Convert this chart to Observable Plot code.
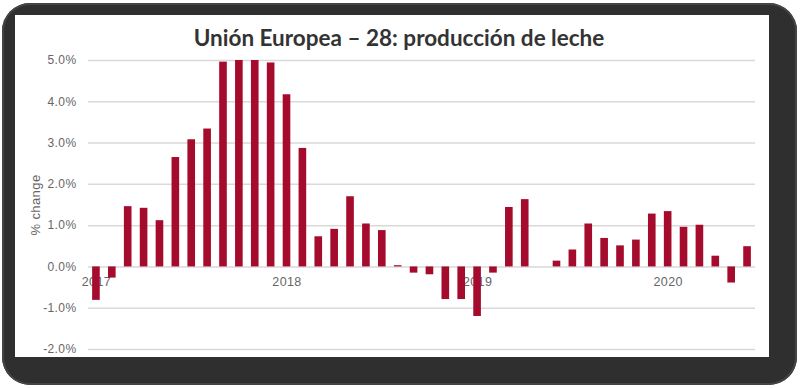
<!DOCTYPE html>
<html>
<head>
<meta charset="utf-8">
<script src="https://cdn.jsdelivr.net/npm/d3@7"></script>
<script src="https://cdn.jsdelivr.net/npm/@observablehq/plot@0.6"></script>
<style>
  html, body { margin: 0; padding: 0; background: #ffffff; }
  #wrap { position: relative; width: 800px; height: 388px; overflow: hidden; background: #fff; }
  #frame { position: absolute; left: 2px; top: 3px; width: 795px; height: 382px; background: #2f2f2f; border-radius: 28px; box-shadow: inset 0 0 0 2px #444; }
  #panel { position: absolute; left: 15px; top: 15px; width: 754px; height: 342px; background: #fff; }
  #title { position: absolute; left: 0; top: 24px; width: 798px; text-align: center; font-family: Lato, "Open Sans", sans-serif; font-weight: bold; font-size: 22.5px; color: #333; }
  #chart { position: absolute; left: 0; top: 0; }
  #chart text { letter-spacing: 0.4px; }
</style>
</head>
<body>
<div id="wrap">
  <div id="frame"></div>
  <div id="panel"></div>
  <div id="title">Unión Europea – 28: producción de leche</div>
  <div id="chart"></div>
</div>
<script>
const months = [
  "2017-01","2017-02","2017-03","2017-04","2017-05","2017-06","2017-07","2017-08","2017-09","2017-10","2017-11","2017-12",
  "2018-01","2018-02","2018-03","2018-04","2018-05","2018-06","2018-07","2018-08","2018-09","2018-10","2018-11","2018-12",
  "2019-01","2019-02","2019-03","2019-04","2019-05","2019-06","2019-07","2019-08","2019-09","2019-10","2019-11","2019-12",
  "2020-01","2020-02","2020-03","2020-04","2020-05","2020-06"
];
const changes = [
  -0.81, -0.27, 1.46, 1.42, 1.12, 2.65, 3.08, 3.34, 4.96, 5.0, 5.0, 4.94,
  4.17, 2.87, 0.73, 0.91, 1.70, 1.04, 0.88, 0.03, -0.15, -0.19, -0.79, -0.79,
  -1.20, -0.15, 1.44, 1.63, 0.0, 0.14, 0.41, 1.04, 0.69, 0.51, 0.65, 1.28,
  1.34, 0.96, 1.01, 0.26, -0.39, 0.49
];
const yearTickMonths = ["2017-01", "2018-01", "2019-01", "2020-01"];
const yearTickLabels = ["2017", "2018", "2019", "2020"];
const yTicks = [-2, -1, 0, 1, 2, 3, 4, 5];

const data = months.map((m, i) => ({month: m, value: changes[i]}));
const yearLabels = yearTickMonths.map((m, i) => ({month: m, label: yearTickLabels[i]}));

const chart = Plot.plot({
  width: 800,
  height: 388,
  marginTop: 60,
  marginBottom: 39,
  marginLeft: 88,
  marginRight: 45,
  style: {background: "transparent", fontFamily: "'Liberation Sans', Arial, sans-serif", fontSize: "12px", color: "#666"},
  x: {domain: months, paddingInner: 0.52, paddingOuter: 0.26, axis: null},
  y: {domain: [-2, 5]},
  marks: [
    Plot.gridY(yTicks, {stroke: "#d9d9d9", strokeOpacity: 1, strokeWidth: 1.5}),
    Plot.axisY(yTicks, {
      tickSize: 0, tickPadding: 12, fill: "#666", fontSize: 12,
      tickFormat: d => d.toFixed(1) + "%", label: null
    }),
    Plot.axisY({
      ticks: [], tickSize: 0,
      label: "% change", labelAnchor: "center", labelArrow: "none", labelOffset: 58,
      fill: "#666", fontSize: 13
    }),
    Plot.text(yearLabels, {x: "month", y: () => 0, text: "label", dy: 15, fill: "#666", fontSize: 12.5}),
    Plot.barY(data, {x: "month", y: "value", fill: "#a50b2d"})
  ]
});
document.getElementById("chart").appendChild(chart);
</script>
</body>
</html>
